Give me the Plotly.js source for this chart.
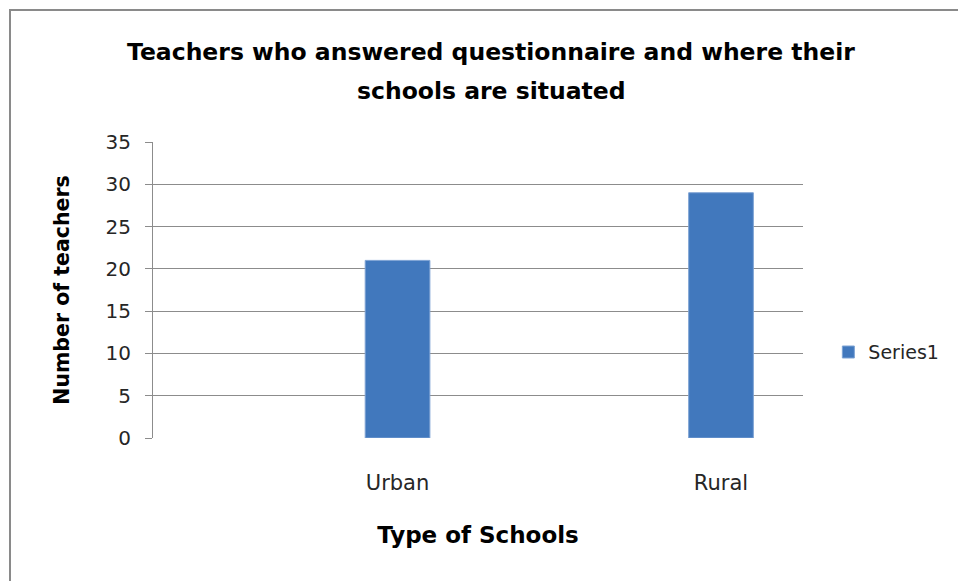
<!DOCTYPE html>
<html>
<head>
<meta charset="utf-8">
<script src="https://cdn.plot.ly/plotly-3.0.1.min.js"></script>
<style>
  html, body { margin: 0; padding: 0; background: #fff; }
  #wrap { position: relative; width: 958px; height: 581px; }
  #chart { position: absolute; left: 0; top: 0; width: 958px; height: 581px; }
  #frame { position: absolute; left: 9px; top: 9px; width: 960px; height: 600px;
           border-top: 2px solid #8a8a8a; border-left: 2px solid #8a8a8a; pointer-events: none; }
</style>
</head>
<body>
<div id="wrap">
  <div id="chart"></div>
  <div id="frame"></div>
</div>
<script>
const categories = ["Urban", "Rural"];
const series1 = [21, 29];
const seriesName = "Series1";
const yTicks = [0, 5, 10, 15, 20, 25, 30, 35];
const titleLines = ["Teachers who answered questionnaire and where their", "schools are situated"];

const FONT = "DejaVu Sans, sans-serif";

const trace = {
  type: "bar",
  x: categories,
  y: series1,
  name: seriesName,
  width: 0.2,
  marker: { color: "#4178BD", line: { color: "#7EA3D4", width: 1 } },
  showlegend: true
};

// plot area: top 142px, bottom 438px (height 296)
const toPaperY = py => (438 - py) / 296;
const toPaperX = px => (px - 153) / 650;

const titleFont = { family: FONT, size: 23.5, color: "#000000", weight: "bold" };

const layout = {
  width: 958, height: 581,
  paper_bgcolor: "#ffffff", plot_bgcolor: "#ffffff",
  margin: { l: 153, r: 155, t: 142, b: 143 },
  annotations: [
    { text: titleLines[0], xref: "paper", yref: "paper", x: toPaperX(491), y: toPaperY(52),
      xanchor: "center", yanchor: "middle", showarrow: false, font: titleFont },
    { text: titleLines[1], xref: "paper", yref: "paper", x: toPaperX(491), y: toPaperY(91),
      xanchor: "center", yanchor: "middle", showarrow: false, font: titleFont }
  ],
  xaxis: {
    type: "category",
    range: [-0.756, 1.2535],
    showgrid: false, zeroline: false,
    showline: false,
    ticks: "",
    ticklabelstandoff: 30,
    tickfont: { family: FONT, size: 21, color: "#262626" },
    title: { text: "Type of Schools", font: { family: FONT, size: 23, color: "#000", weight: "bold" }, standoff: 32 }
  },
  yaxis: {
    range: [0, 35],
    tickvals: yTicks,
    showgrid: true, gridcolor: "#8c8c8c", gridwidth: 1,
    zeroline: false,
    showline: true, linecolor: "#8c8c8c", linewidth: 1,
    ticks: "outside", ticklen: 7, tickcolor: "#8c8c8c",
    ticklabelstandoff: 10,
    tickfont: { family: FONT, size: 20, color: "#262626" },
    title: { text: "Number of teachers", font: { family: FONT, size: 20.5, color: "#000", weight: "bold" }, standoff: 30 }
  },
  legend: {
    x: 1.039, xanchor: "left", y: 0.29, yanchor: "middle",
    font: { family: FONT, size: 19, color: "#262626" },
    bgcolor: "rgba(0,0,0,0)", borderwidth: 0
  },
  bargap: 0
};

Plotly.newPlot("chart", [trace], layout, { staticPlot: true, displayModeBar: false });
</script>
</body>
</html>
